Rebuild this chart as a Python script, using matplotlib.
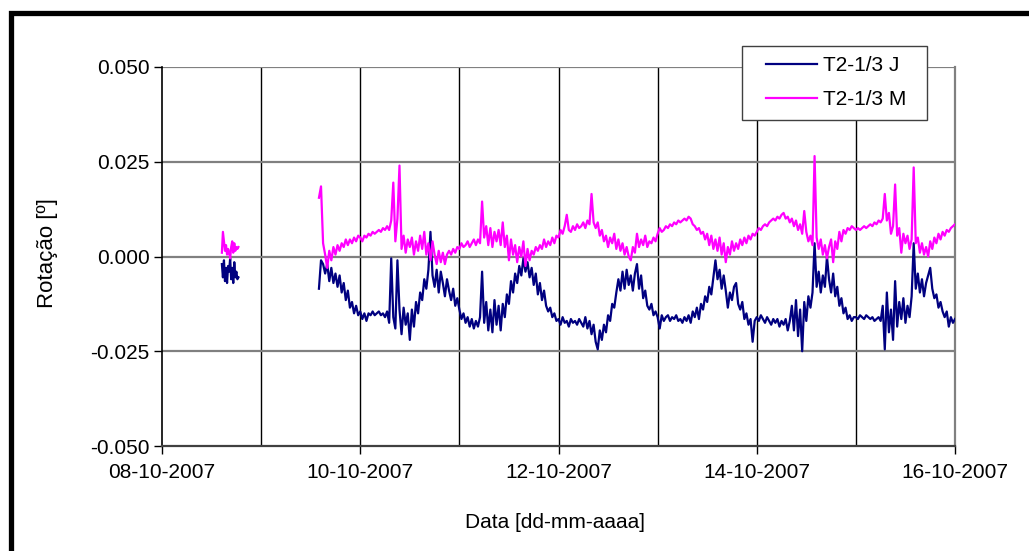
import numpy as np
import pandas as pd
import matplotlib
matplotlib.use("Agg")
import matplotlib.pyplot as plt
import matplotlib.dates as mdates
from matplotlib.patches import Rectangle

plt.rcParams['font.family'] = ['Liberation Sans', 'DejaVu Sans']

# ---------------- data (rotation in 1e-3 degrees) ----------------
start_date = "2007-10-08"
series_names = ["T2-1/3 J", "T2-1/3 M"]

# segment 1: 08-10-2007, from 14:30, every 15 min
seg1_start_h = 14.5
seg1_step_h = 0.25
seg1_J = [-2.0, -5.5, -1.0, -6.5, -3.0, -7.0, -2.5, -4.0, -0.5, -6.0, -3.0, -7.0, -1.5, -5.5, -4.0, -6.0, -5.5]
seg1_M = [1.0, 6.5, 4.0, 1.5, 3.0, 0.5, 2.0, 1.0, -0.5, 2.5, 4.0, 1.0, 3.5, 1.5, 2.5, 2.0, 2.5]

# segment 2: from 09-10-2007 14:00 to 16-10-2007 00:00, every 30 min
seg2_start_h = 38.0
seg2_step_h = 0.5
seg2_J = [
    # 09-10 14:00 - 23:30
    -8.5, -1.0, -2.0, -4.5, -2.0, -6.5, -3.0, -7.0, -4.5, -8.0, -5.0, -9.5, -7.0, -11.5, -9.0, -13.5, -12.0, -15.0, -13.0, -15.5,
    # 10-10
    -14.5, -16.5, -15.0, -17.0, -15.0, -15.5, -14.5, -15.5, -15.0, -14.5, -15.5, -15.0, -16.0, -14.5, -17.5, -0.5,
    -16.0, -19.0, -1.0, -14.0, -20.5, -13.5, -18.0, -15.0, -22.0, -14.0, -18.5, -12.0, -15.0, -9.5, -11.5, -6.0,
    -8.5, -3.5, 6.5, -5.0, -8.0, -3.5, -9.5, -4.0, -7.0, -10.5, -6.0, -9.0, -11.5, -8.5, -13.0, -11.0,
    # 11-10
    -14.0, -16.5, -15.0, -17.5, -16.0, -18.5, -16.5, -19.0, -17.0, -18.5, -16.0, -4.0, -17.5, -12.0, -19.5, -14.0,
    -20.0, -11.5, -18.0, -13.0, -19.5, -12.5, -16.0, -10.0, -12.5, -6.5, -9.5, -4.5, -7.0, -2.5, -5.0, -0.5,
    -4.0, -1.5, -5.5, -3.0, -7.5, -4.5, -10.0, -7.0, -11.5, -9.0, -13.0, -14.5, -13.5, -16.0, -15.0, -17.0,
    # 12-10
    -16.5, -18.0, -16.0, -17.5, -17.0, -18.5, -16.5, -17.5, -17.0, -18.0, -16.5, -17.5, -18.5, -16.0, -19.0, -17.0,
    -20.5, -18.0, -22.5, -24.5, -19.5, -22.0, -18.0, -20.0, -15.5, -17.0, -12.5, -13.5, -9.5, -6.0, -9.0, -4.0,
    -8.5, -3.5, -7.5, -5.0, -9.0, -4.5, -2.0, -8.5, -5.0, -11.0, -9.0, -13.0, -14.0, -12.5, -15.5, -14.5,
    # 13-10
    -16.0, -19.0, -15.5, -17.0, -16.0, -15.5, -17.0, -16.0, -16.5, -15.5, -17.0, -16.5, -17.5, -16.0, -17.0, -15.5,
    -17.5, -14.5, -16.0, -13.5, -16.5, -12.5, -14.0, -10.5, -12.0, -8.0, -10.0, -5.5, -1.0, -6.0, -3.5, -8.5,
    -5.0, -9.0, -13.5, -9.5, -11.5, -8.0, -7.0, -12.5, -14.0, -12.0, -16.5, -15.0, -18.0, -16.5, -22.5, -17.0,
    # 14-10
    -16.0, -17.0, -15.5, -16.5, -17.5, -16.0, -17.0, -18.0, -16.5, -17.5, -16.5, -18.5, -17.0, -18.0, -16.5, -19.5,
    -17.0, -13.0, -19.5, -11.5, -21.0, -14.0, -25.0, -12.0, -17.0, -10.5, -13.5, -9.5, 3.5, -8.0, -4.0, -9.5,
    -5.0, -8.0, 0.0, -6.0, -9.5, -4.5, -10.5, -8.0, -13.0, -11.0, -15.0, -13.5, -16.5, -15.5, -17.0, -16.0,
    # 15-10 and 16-10 00:00
    -16.0, -16.5, -15.5, -16.0, -16.5, -15.5, -16.0, -16.5, -16.0, -17.0, -16.5, -16.0, -17.0, -13.0, -24.5, -9.5,
    -20.0, -14.0, -22.0, -6.5, -18.5, -12.0, -16.5, -11.0, -17.5, -13.0, -16.0, -10.5, 3.5, -8.5, -4.5, -9.5,
    -6.0, -10.5, -7.0, -5.0, -3.0, -8.5, -11.0, -10.0, -13.5, -12.0, -14.5, -16.0, -14.5, -18.5, -16.0, -17.5,
    -16.5,
]
seg2_M = [
    # 09-10 14:00 - 23:30
    15.5, 18.5, 3.5, 0.5, -3.0, 1.5, -1.0, 2.5, 0.5, 3.0, 1.5, 3.5, 2.5, 4.5, 3.0, 4.5, 3.5, 5.0, 4.0, 5.5,
    # 10-10
    5.0, 4.0, 5.5, 5.0, 6.0, 5.5, 6.5, 6.0, 6.5, 7.0, 6.5, 7.5, 7.0, 8.0, 7.0, 9.5,
    19.5, 4.0, 10.0, 24.0, 2.0, 5.5, 1.0, 4.5, 2.5, 5.0, 0.5, 4.0, 1.5, 5.5, 2.0, 6.5,
    0.5, 3.5, -1.0, 4.0, 0.5, -2.0, 1.5, -1.5, 1.0, -2.0, 0.5, 1.5, 0.5, 2.0, 1.0, 2.5,
    # 11-10
    2.0, 3.5, 2.5, 3.0, 4.0, 2.5, 3.5, 4.5, 3.0, 4.5, 3.5, 14.5, 5.0, 8.0, 3.0, 7.5,
    2.5, 6.5, 4.0, 7.0, 3.0, 9.0, 2.5, 5.5, -1.0, 4.5, 0.5, 3.0, -1.5, 2.5, 0.0, 4.0,
    -2.5, 2.0, -1.0, 1.5, 0.5, 2.5, 1.5, 3.0, 2.0, 4.5, 2.5, 4.0, 3.0, 5.0, 3.5, 5.5,
    # 12-10
    5.0, 7.0, 6.0, 8.0, 11.0, 7.0, 6.5, 8.0, 7.0, 8.5, 7.5, 8.0, 9.0, 7.5, 9.5, 8.5,
    16.5, 9.0, 7.5, 9.0, 5.5, 7.0, 4.0, 5.5, 2.5, 5.0, 3.5, 6.0, 2.0, 4.5, 1.5, 3.5,
    0.5, 2.5, 0.0, -1.0, 2.5, 1.0, 6.0, 2.5, 4.5, 3.0, 5.5, 2.5, 4.0, 3.5, 5.0, 4.0,
    # 13-10
    6.0, 7.5, 6.5, 7.0, 8.0, 7.5, 8.5, 8.0, 9.0, 8.5, 9.5, 9.0, 9.5, 10.0, 9.5, 10.5,
    10.0, 8.5, 8.0, 7.0, 7.5, 6.0, 6.5, 4.5, 6.0, 3.0, 5.5, 2.0, 4.5, 1.5, 5.0, 0.5,
    3.5, -1.5, 2.5, 0.5, 4.0, 1.5, 3.5, 2.0, 4.5, 3.0, 5.0, 3.5, 5.5, 4.5, 6.0, 5.5,
    # 14-10
    6.5, 7.5, 7.0, 8.0, 8.5, 8.0, 9.0, 9.5, 10.0, 9.5, 10.5, 10.0, 11.0, 11.5, 10.0, 10.5,
    9.0, 10.0, 8.0, 9.5, 7.0, 8.5, 6.0, 12.0, 6.5, 4.0, 5.5, 3.0, 26.5, 5.0, 2.0, 4.5,
    0.5, 3.0, -0.5, 2.5, 4.5, -1.5, 4.0, 2.0, 6.5, 4.0, 7.0, 6.0, 7.5, 7.0, 8.0, 7.5,
    # 15-10 and 16-10 00:00
    7.0, 7.5, 7.0, 7.5, 8.0, 7.5, 8.0, 8.5, 8.0, 9.0, 8.5, 9.5, 9.0, 10.0, 16.5, 9.5,
    11.5, 6.0, 8.0, 19.0, 5.5, 7.5, 1.0, 6.0, 3.5, 5.5, 2.0, 4.5, 23.5, 3.5, 5.0, 1.0,
    3.5, 0.5, 2.5, 0.0, 4.0, 2.0, 5.0, 3.5, 6.0, 4.5, 6.5, 5.5, 7.0, 6.5, 7.5, 8.0,
    8.5,
]

x_ticks = ["2007-10-08", "2007-10-10", "2007-10-12", "2007-10-14", "2007-10-16"]
y_ticks = [-0.050, -0.025, 0.000, 0.025, 0.050]

# ---------------- build time series ----------------
base = pd.Timestamp(start_date)
def times(start_h, step_h, n):
    return base + pd.to_timedelta(start_h + step_h * np.arange(n), unit="h")

t1 = times(seg1_start_h, seg1_step_h, len(seg1_J))
t2 = times(seg2_start_h, seg2_step_h, len(seg2_J))
gap = pd.DatetimeIndex([base + pd.Timedelta(hours=28)])
t_all = t1.append(gap).append(t2)
J_all = np.concatenate([np.array(seg1_J), [np.nan], np.array(seg2_J)]) / 1000.0
M_all = np.concatenate([np.array(seg1_M), [np.nan], np.array(seg2_M)]) / 1000.0

# ---------------- figure ----------------
W, H = 1029, 551
FS = 15
fig = plt.figure(figsize=(W / 100, H / 100), dpi=100)
fig.patch.set_facecolor("white")

ax = fig.add_axes([162 / W, 1 - 446 / H, (955 - 162) / W, (446 - 67) / H])

c_J = "#000080"
c_M = "#FF00FF"
ax.plot(t_all, J_all, color=c_J, lw=1.6, label=series_names[0], zorder=3)
ax.plot(t_all, M_all, color=c_M, lw=1.6, label=series_names[1], zorder=3)

ax.set_xlim(pd.Timestamp(x_ticks[0]), pd.Timestamp(x_ticks[-1]))
ax.set_ylim(y_ticks[0], y_ticks[-1])

# gridlines
for d in pd.date_range(x_ticks[0], x_ticks[-1], freq="D")[1:-1]:
    ax.axvline(d, color="black", lw=1.0, zorder=1)
for yv in y_ticks[1:]:
    ax.axhline(yv, color="#808080", lw=1.6, zorder=1)

ax.set_xticks([pd.Timestamp(s) for s in x_ticks])
ax.xaxis.set_major_formatter(mdates.DateFormatter("%d-%m-%Y"))
ax.set_yticks(y_ticks)
ax.set_yticklabels([f"{v:.3f}" for v in y_ticks])
ax.tick_params(axis="both", direction="out", length=6, width=1.0, labelsize=FS, colors="black")
ax.tick_params(axis="x", pad=6)
ax.tick_params(axis="y", pad=3)

ax.spines["top"].set_visible(False)
ax.spines["right"].set_color("#808080")
ax.spines["right"].set_linewidth(1.6)
ax.spines["left"].set_color("black")
ax.spines["left"].set_linewidth(1.2)
ax.spines["bottom"].set_color("#404040")
ax.spines["bottom"].set_linewidth(1.6)

fig.text(47 / W, 1 - 253 / H, "Rotação [º]", rotation=90, ha="center", va="center", fontsize=FS + 1)
fig.text(555 / W, 1 - 523 / H, "Data [dd-mm-aaaa]", ha="center", va="center", fontsize=FS)

# legend: white box with grey border, entries drawn by the legend itself
ax.add_patch(Rectangle((742 / W, 1 - 120 / H), (927 - 742) / W, (120 - 46) / H, transform=fig.transFigure,
                       facecolor="white", edgecolor="#404040", lw=1.0, clip_on=False, zorder=4))
leg = ax.legend(loc="upper left", bbox_to_anchor=(766 / W, 1 - 56 / H), bbox_transform=fig.transFigure,
                fontsize=FS, frameon=False, handlelength=2.45, handletextpad=0.3,
                labelspacing=0.72, borderpad=0, borderaxespad=0)
leg.set_zorder(5)

# outer black frame (cropped on right and bottom)
fig.patches.append(Rectangle((10.5 / W, -0.05), 1.1, 1 - 12.5 / H + 0.05, transform=fig.transFigure,
                             fill=False, edgecolor="black", lw=3.8, clip_on=False))

fig.savefig("out.png", dpi=100)
